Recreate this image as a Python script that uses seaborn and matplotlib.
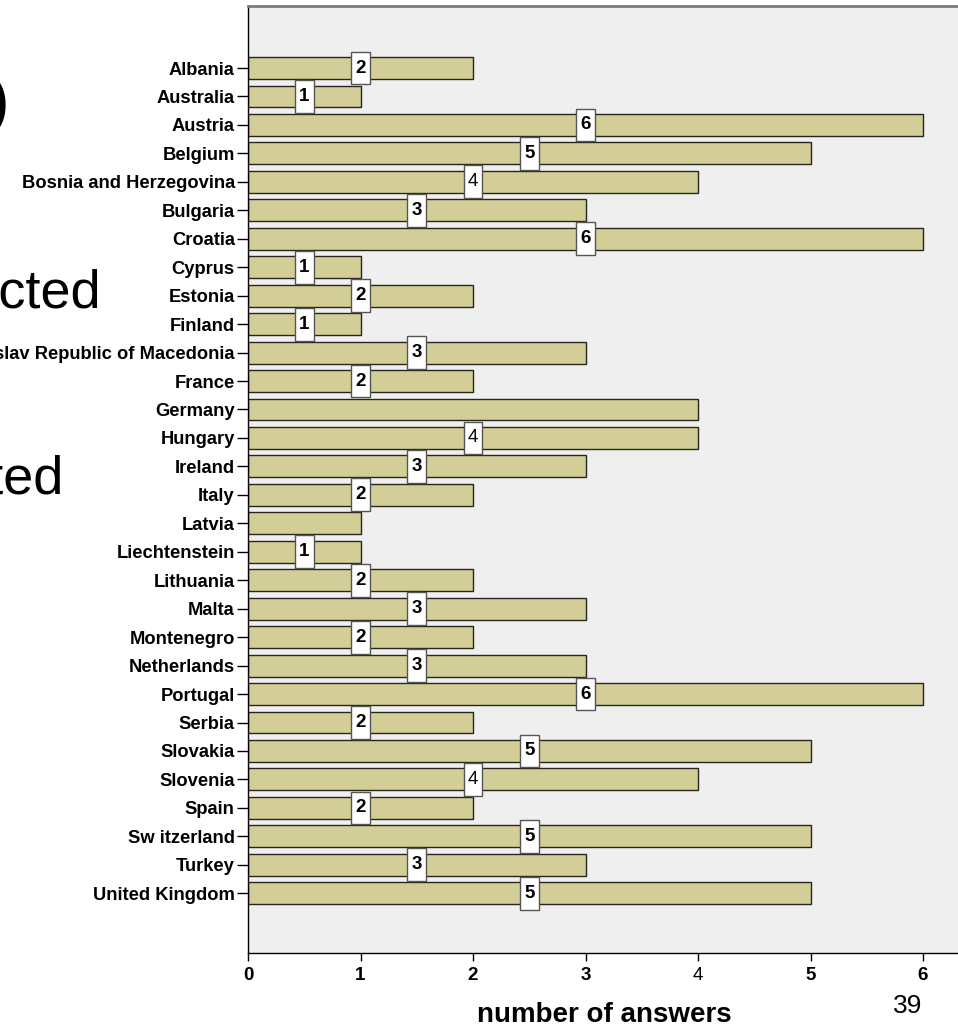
import matplotlib
matplotlib.use("Agg")
import matplotlib.pyplot as plt
from matplotlib.path import Path
import seaborn as sns

countries = [
    "Albania", "Australia", "Austria", "Belgium", "Bosnia and Herzegovina",
    "Bulgaria", "Croatia", "Cyprus", "Estonia", "Finland",
    "The former Yugoslav Republic of Macedonia", "France", "Germany", "Hungary",
    "Ireland", "Italy", "Latvia", "Liechtenstein", "Lithuania", "Malta",
    "Montenegro", "Netherlands", "Portugal", "Serbia", "Slovakia", "Slovenia",
    "Spain", "Sw itzerland", "Turkey", "United Kingdom",
]
answers = [2, 1, 6, 5, 4, 3, 6, 1, 2, 1, 3, 2, 4, 4, 3, 2, 1, 1, 2, 3,
           2, 3, 6, 2, 5, 4, 2, 5, 3, 5]
# bars whose value box is drawn (Germany and Latvia carry none)
show_label = [True] * 30
show_label[countries.index("Germany")] = False
show_label[countries.index("Latvia")] = False
x_ticks = [0, 1, 2, 3, 4, 5, 6]

sns.set_theme(style="white")
plt.rcParams["font.family"] = ["Liberation Sans", "DejaVu Sans"]
plt.rcParams["text.color"] = "black"
plt.rcParams["xtick.color"] = "black"
plt.rcParams["ytick.color"] = "black"
plt.rcParams["axes.labelcolor"] = "black"


def tall_box(x0, y0, width, height, mutation_size):
    """Rectangle with more padding above/below than at the sides."""
    px = 0.22 * mutation_size
    py = 0.42 * mutation_size
    x0, y0 = x0 - px, y0 - py
    x1, y1 = x0 + width + 2 * px, y0 + height + 2 * py
    return Path([(x0, y0), (x1, y0), (x1, y1), (x0, y1), (x0, y0)],
                closed=True)


W, H = 958, 1025
fig = plt.figure(figsize=(W / 100, H / 100), dpi=100)
ax = fig.add_axes([248 / W, 72 / H, 712 / W, 947 / H])
ax.set_facecolor("#efefef")

sns.barplot(x=answers, y=countries, orient="h", color="#d3ce98",
            saturation=1, edgecolor="#26261c", linewidth=1.0, width=0.77,
            ax=ax)

ax.set_xlim(0, 712 / 112.5)
ax.set_ylim(len(countries) - 1 + 2.1, -2.18)

for i, (v, show) in enumerate(zip(answers, show_label)):
    if not show:
        continue
    ax.text(v / 2, i, str(v), ha="center", va="center", fontsize=13.5,
            fontweight="normal" if v == 4 else "bold", color="black",
            bbox=dict(boxstyle=tall_box, facecolor="white",
                      edgecolor="#555555", linewidth=1.0), zorder=5)

ax.set_xticks(x_ticks)
ax.set_xticklabels([str(t) for t in x_ticks], fontsize=13.5)
for lab, t in zip(ax.get_xticklabels(), x_ticks):
    lab.set_fontweight("normal" if t == 4 else "bold")
for lab in ax.get_yticklabels():
    lab.set_fontsize(13.2)
    lab.set_fontweight("bold")

ax.tick_params(axis="y", left=True, length=8, width=1, pad=1.5,
               color="black")
ax.tick_params(axis="x", bottom=True, length=6, width=1, pad=4,
               color="black")
ax.set_ylabel("")
ax.set_xlabel("number of answers", fontsize=20, fontweight="bold",
              labelpad=13)

for side in ["left", "bottom"]:
    ax.spines[side].set_color("black")
    ax.spines[side].set_linewidth(1.0)
ax.spines["top"].set_color("#7a7a7a")
ax.spines["top"].set_linewidth(2)
ax.spines["right"].set_visible(False)

# slide text running in from the left edge
slide = dict(family=["Liberation Sans", "DejaVu Sans"])
fig.text(10 / W, 1 - 122 / H, "(30)", ha="right", va="baseline",
         fontsize=46, **slide)
fig.text(101 / W, 1 - 308 / H, "contacted", ha="right", va="baseline",
         fontsize=39, **slide)
fig.text(64 / W, 1 - 493 / H, "selected", ha="right", va="baseline",
         fontsize=39, **slide)
fig.text(908 / W, 1 - 1013 / H, "39", ha="center", va="baseline",
         fontsize=19, **slide)

fig.savefig("out.png", dpi=100)
